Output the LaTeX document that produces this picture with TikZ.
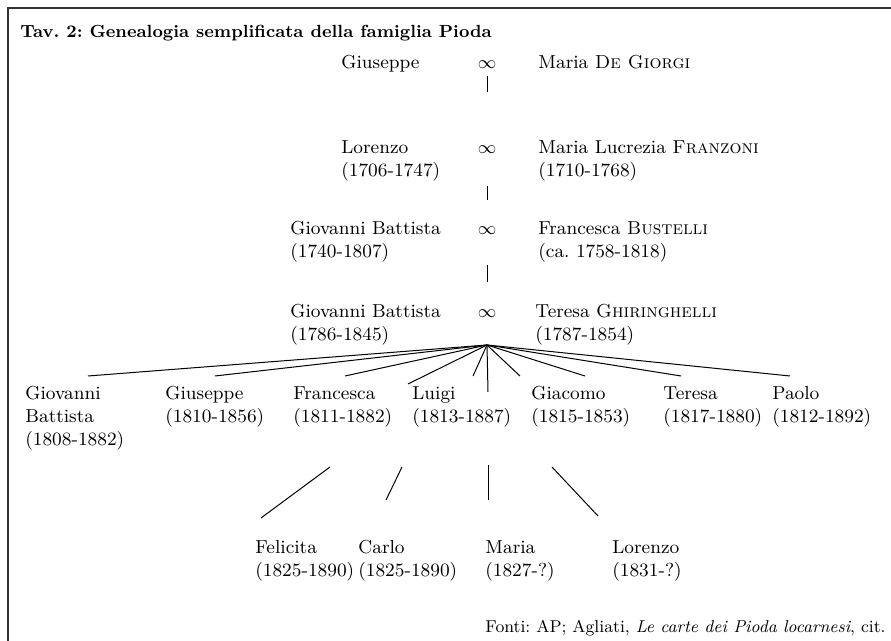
\documentclass[tikz,border=0pt]{standalone}
\usepackage{tikz}
\frenchspacing

\begin{document}
\begin{tikzpicture}[
x=0.5pt,y=-0.5pt,
person/.style={anchor=base west,inner sep=0pt,align=left,font=\fontsize{9.4}{11.6}\selectfont},
wed/.style={anchor=base,inner sep=0pt,font=\fontsize{9.4}{11.6}\selectfont},
kin/.style={line width=0.5pt}
]
\useasboundingbox (0,0) rectangle (891,641);
\draw[line width=0.7pt,black!80] (891,8) -- (8,8) -- (8,641);
\node[anchor=base west,inner sep=0pt,font=\fontsize{8.8}{10}\bfseries] (title) at (20,38) {Tav. 2: Genealogia semplificata della famiglia Pioda};

% ancestors (base = last line)
\node[person] (giuseppe0) at (341,69) {Giuseppe};
\node[wed] (w1) at (487,69) {$\infty$};
\node[person] (degiorgi) at (538,69) {Maria \textsc{De Giorgi}};
\node[person] (lorenzo0) at (341,177) {Lorenzo\\(1706-1747)};
\node[wed] (w2) at (487,154) {$\infty$};
\node[person] (franzoni) at (538,177) {Maria Lucrezia \textsc{Franzoni}\\(1710-1768)};
\node[person] (gb1) at (290,258) {Giovanni Battista\\(1740-1807)};
\node[wed] (w3) at (487,235) {$\infty$};
\node[person] (bustelli) at (538,258) {Francesca \textsc{Bustelli}\\(ca. 1758-1818)};
\node[person] (gb2) at (290,341) {Giovanni Battista\\(1786-1845)};
\node[wed] (w4) at (487,318) {$\infty$};
\node[person] (ghiringhelli) at (535,341) {Teresa \textsc{Ghiringhelli}\\(1787-1854)};

% children
\node[person] (giovanni) at (25,446) {Giovanni\\Battista\\(1808-1882)};
\node[person] (giuseppe) at (165,423) {Giuseppe\\(1810-1856)};
\node[person] (francesca) at (293,423) {Francesca\\(1811-1882)};
\node[person] (luigi) at (412,423) {Luigi\\(1813-1887)};
\node[person] (giacomo) at (531,423) {Giacomo\\(1815-1853)};
\node[person] (teresa) at (663,423) {Teresa\\(1817-1880)};
\node[person] (paolo) at (772,423) {Paolo\\(1812-1892)};
\node[person] (felicita) at (255,577) {Felicita\\(1825-1890)};
\node[person] (carlo) at (358,577) {Carlo\\(1825-1890)};
\node[person] (maria) at (485,577) {Maria\\(1827-?)};
\node[person] (lorenzo) at (612,577) {Lorenzo\\(1831-?)};

\node[anchor=base east,inner sep=0pt,font=\fontsize{8.6}{10}\selectfont] (fonti) at (886,633) {Fonti: AP; Agliati, \textit{Le carte dei Pioda locarnesi}, cit.};

% descent lines
\foreach \n/\x/\y in {d1a/487/76,d1b/487/92,d2a/487/186,d2b/487/200,d3a/487/265,d3b/487/282,
  apex/487/345,f1/88/376,f2/215/376,f3/345/376,f4/408/384,f5/473/376,f6/488/392,f7/520/376,
  f8/585/376,f9/681/376,f10/790/376,
  g1a/330/467,g1b/261/518,g2a/402/467,g2b/386/500,g3a/488/465,g3b/488/500,g4a/552/467,g4b/598/516}
  \coordinate (\n) at (\x,\y);
\draw[kin] (d1a) -- (d1b);
\draw[kin] (d2a) -- (d2b);
\draw[kin] (d3a) -- (d3b);
\foreach \n in {f1,f2,f3,f4,f5,f6,f7,f8,f9,f10}
  \draw[kin] (apex) -- (\n);
\foreach \n in {g1,g2,g3,g4}
  \draw[kin] (\n a) -- (\n b);
\end{tikzpicture}
\end{document}
